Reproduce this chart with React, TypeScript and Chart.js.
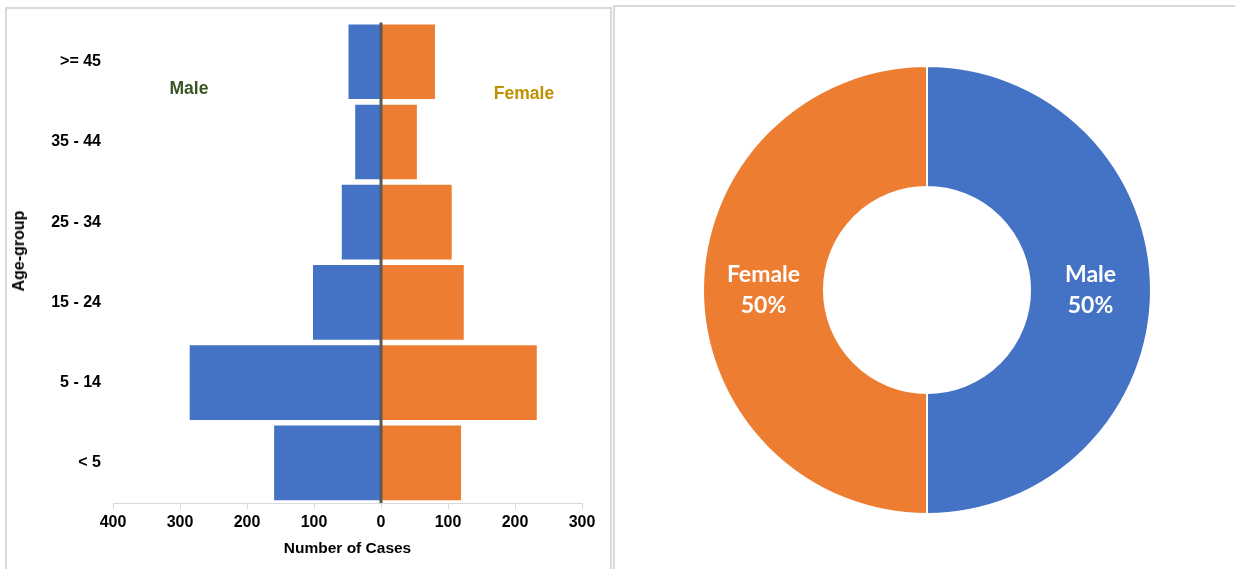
import React, { useEffect, useRef } from "react";
import { Chart, registerables } from "chart.js";

Chart.register(...registerables);

// ---- data ----
const ageGroups = [">= 45", "35 - 44", "25 - 34", "15 - 24", "5 - 14", "< 5"];
const maleCases = [50, 40, 60, 103, 287, 161];
const femaleCases = [82, 55, 107, 125, 234, 121];
const xMin = -400;
const xMax = 300;
const xStep = 100;

const sexLabels = ["Male", "Female"];
const sexShares = [50, 50];

// ---- styles ----
const BLUE = "#4472C4";
const ORANGE = "#ED7D31";
const AXIS_FONT = "'Liberation Sans', Arial, sans-serif";
const DONUT_FONT = "Lato, 'Open Sans', sans-serif";

const zeroLinePlugin = {
  id: "zeroLine",
  afterDatasetsDraw(chart: any) {
    const { ctx, chartArea } = chart;
    const x = chart.scales.x.getPixelForValue(0);
    ctx.save();
    ctx.strokeStyle = "#595959";
    ctx.lineWidth = 3;
    ctx.beginPath();
    ctx.moveTo(x, chartArea.top + 1);
    ctx.lineTo(x, chartArea.bottom);
    ctx.stroke();
    ctx.restore();
  },
};

const donutLabelPlugin = {
  id: "donutLabels",
  afterDatasetsDraw(chart: any) {
    const { ctx } = chart;
    const meta = chart.getDatasetMeta(0);
    const values = chart.data.datasets[0].data as number[];
    const total = values.reduce((a, b) => a + b, 0);
    ctx.save();
    ctx.fillStyle = "#ffffff";
    ctx.font = `bold 23px ${DONUT_FONT}`;
    ctx.textAlign = "center";
    ctx.textBaseline = "middle";
    meta.data.forEach((arc: any, i: number) => {
      const { x, y } = arc.tooltipPosition();
      const pct = Math.round((values[i] / total) * 100);
      ctx.fillText(String(chart.data.labels[i]), x, y - 15.5);
      ctx.fillText(`${pct}%`, x, y + 15.5);
    });
    ctx.restore();
  },
};

export default function App() {
  const pyramidRef = useRef<HTMLCanvasElement>(null);
  const donutRef = useRef<HTMLCanvasElement>(null);

  useEffect(() => {
    const tickFont = { family: AXIS_FONT, size: 16, weight: "bold" as const };
    const pyramid = new Chart(pyramidRef.current!, {
      type: "bar",
      data: {
        labels: ageGroups,
        datasets: [
          {
            label: "Male",
            data: maleCases.map((v) => -v),
            backgroundColor: BLUE,
            borderColor: "rgba(255,255,255,0.45)",
            borderWidth: 1,
            barPercentage: 0.955,
            categoryPercentage: 1,
          },
          {
            label: "Female",
            data: femaleCases,
            backgroundColor: ORANGE,
            borderColor: "rgba(255,255,255,0.45)",
            borderWidth: 1,
            barPercentage: 0.955,
            categoryPercentage: 1,
          },
        ],
      },
      options: {
        indexAxis: "y",
        animation: false,
        responsive: false,
        maintainAspectRatio: false,
        layout: { padding: { left: 0, top: 19, right: 30, bottom: 0 } },
        plugins: { legend: { display: false }, tooltip: { enabled: false } },
        scales: {
          x: {
            type: "linear",
            min: xMin,
            max: xMax,
            stacked: true,
            afterFit: (s: any) => {
              s.height = 66;
            },
            ticks: {
              stepSize: xStep,
              callback: (v: any) => String(Math.abs(Number(v))),
              color: "#000",
              font: tickFont,
              padding: 4,
              maxRotation: 0,
              autoSkip: false,
            },
            grid: {
              drawOnChartArea: false,
              drawTicks: true,
              tickLength: 6,
              color: "#d9d9d9",
            },
            border: { display: true, color: "#d9d9d9", width: 1 },
            title: {
              display: true,
              text: "Number of Cases",
              color: "#000",
              font: { family: AXIS_FONT, size: 15.5, weight: "bold" },
              padding: { top: 0, bottom: 11 },
            },
          },
          y: {
            stacked: true,
            afterFit: (s: any) => {
              s.width = 113;
            },
            ticks: { color: "#000", font: tickFont, padding: 12 },
            grid: { display: false, drawTicks: false },
            border: { display: false },
          },
        },
      },
      plugins: [zeroLinePlugin],
    } as any);

    const donut = new Chart(donutRef.current!, {
      type: "doughnut",
      data: {
        labels: sexLabels,
        datasets: [
          {
            data: sexShares,
            backgroundColor: [BLUE, ORANGE],
            borderColor: "#ffffff",
            borderWidth: 2,
          },
        ],
      },
      options: {
        animation: false,
        responsive: false,
        maintainAspectRatio: false,
        cutout: "46%",
        layout: { padding: 25 },
        plugins: { legend: { display: false }, tooltip: { enabled: false } },
      },
      plugins: [donutLabelPlugin],
    } as any);

    return () => {
      pyramid.destroy();
      donut.destroy();
    };
  }, []);

  const abs = (o: React.CSSProperties): React.CSSProperties => ({ position: "absolute", ...o });
  const centered: React.CSSProperties = {
    position: "absolute",
    transform: "translate(-50%, -50%)",
    whiteSpace: "nowrap",
    fontFamily: AXIS_FONT,
    fontWeight: "bold",
    lineHeight: 1,
  };

  return (
    <div
      style={{
        position: "fixed",
        left: 0,
        top: 0,
        width: 1235,
        height: 569,
        overflow: "hidden",
        background: "#ffffff",
      }}
    >
      <div style={abs({ left: 5, top: 7, width: 607, height: 620, border: "2px solid #d9d9d9", boxSizing: "border-box" })} />
      <div style={abs({ left: 613, top: 5, width: 640, height: 620, border: "2px solid #d9d9d9", boxSizing: "border-box" })} />
      <canvas ref={pyramidRef} width={612} height={569} style={abs({ left: 0, top: 0, width: 612, height: 569 })} />
      <canvas ref={donutRef} width={500} height={500} style={abs({ left: 677, top: 40, width: 500, height: 500 })} />
      <div style={{ ...centered, left: 19, top: 251, fontSize: 16, color: "#000", transform: "translate(-50%, -50%) rotate(-90deg)" }}>
        Age-group
      </div>
      <div style={{ ...centered, left: 189, top: 89, fontSize: 17.5, color: "#375623" }}>Male</div>
      <div style={{ ...centered, left: 524, top: 94, fontSize: 17.5, color: "#BF9000" }}>Female</div>
    </div>
  );
}
